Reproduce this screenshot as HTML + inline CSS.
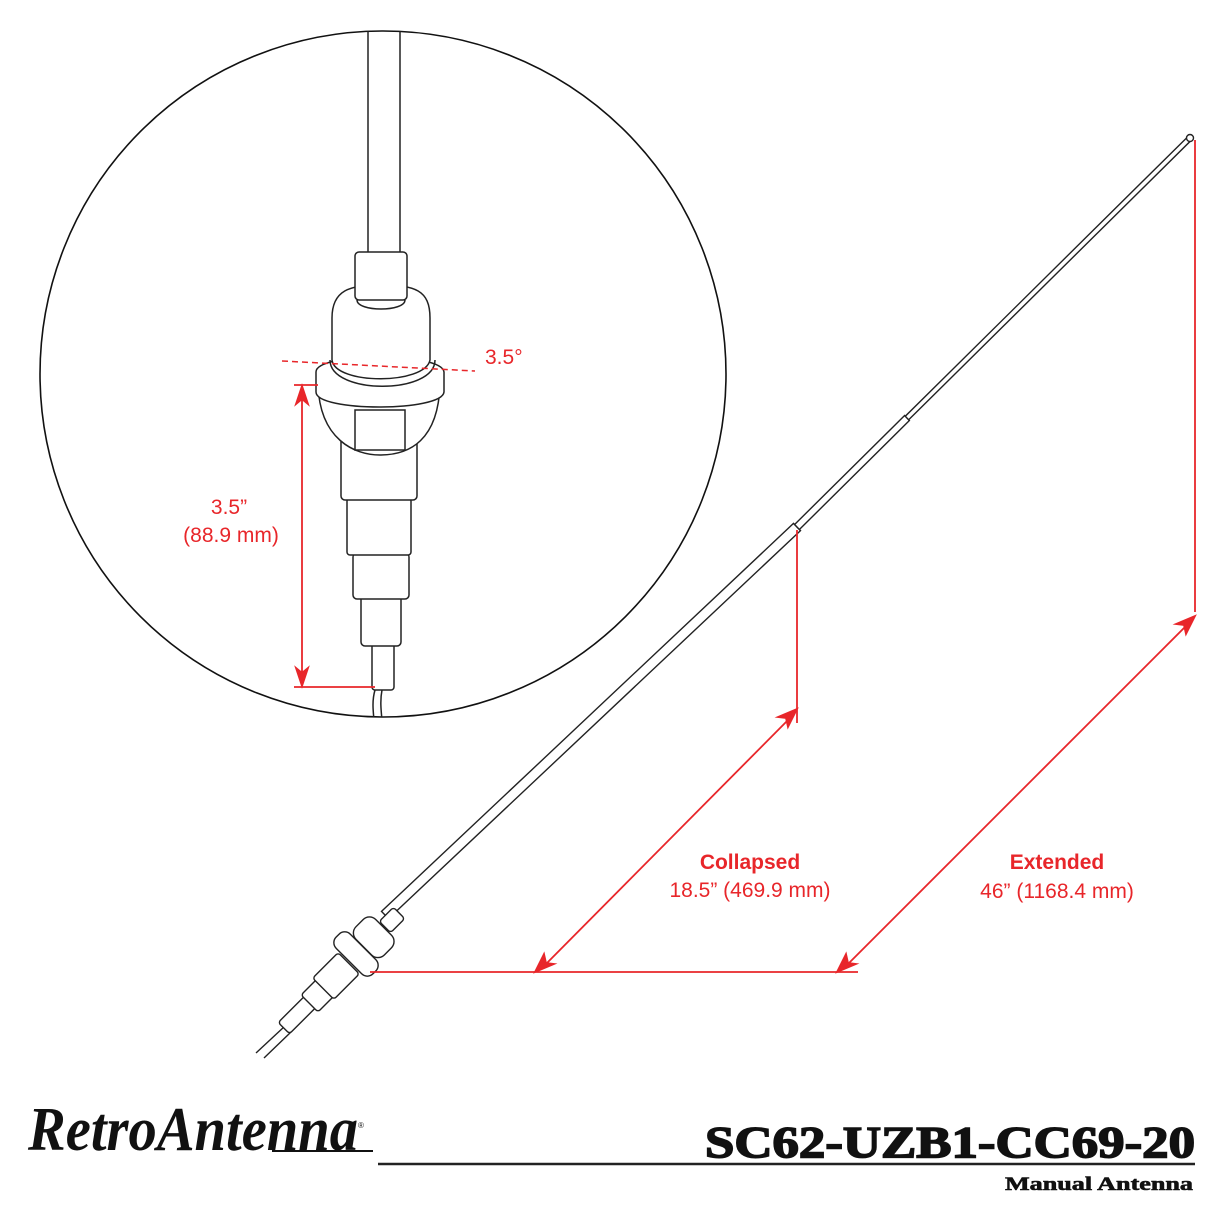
<!DOCTYPE html>
<html><head><style>
html,body{margin:0;padding:0;background:#fff;}
svg{display:block;}
</style></head><body>
<svg width="1225" height="1225" viewBox="0 0 1225 1225" xmlns="http://www.w3.org/2000/svg">
<defs>
<clipPath id="cc"><circle cx="383" cy="374" r="343"/></clipPath>
</defs>
<rect width="1225" height="1225" fill="#fff"/>
<circle cx="383" cy="374" r="343" fill="none" stroke="#111" stroke-width="1.6"/>
<g clip-path="url(#cc)" fill="#fff" stroke="#222" stroke-width="1.5">
  <line x1="368" y1="20" x2="368" y2="258"/>
  <line x1="400" y1="20" x2="400" y2="258"/>
  <path d="M375 690 C372 700 373 710 374 720 M382 690 C380 700 381 710 382 720" fill="none"/>
  <rect x="372" y="640" width="22" height="50" rx="3"/>
  <rect x="361" y="594" width="40" height="52" rx="4"/>
  <rect x="353" y="553" width="56" height="46" rx="4"/>
  <rect x="347" y="498" width="64" height="57" rx="3"/>
  <rect x="341" y="438" width="76" height="62" rx="4"/>
  <path d="M318 385 C320 440 355 455 380 455 C410 455 438 440 440 385 Z"/>
  <rect x="355" y="410" width="50" height="40"/>
  <path d="M316 372 C316 352 442 352 444 372 L444 392 C442 412 316 412 316 392 Z"/>
  <path d="M330 360 C330 395 435 395 435 360" fill="none"/>
  <path d="M332 318 C332 290 350 285 380 285 C415 285 430 290 430 318 L430 360 C425 385 335 385 332 360 Z"/>
  <rect x="355" y="252" width="52" height="48" rx="4"/>
  <path d="M357 300 C357 312 405 312 405 300" fill="none"/>
</g>
<line x1="282" y1="361" x2="475" y2="371" stroke="#e8262a" stroke-width="1.5" stroke-dasharray="6,4"/>
<text x="485" y="364" font-family="Liberation Sans, sans-serif" font-size="21" fill="#e8262a">3.5°</text>
<g stroke="#e8262a" stroke-width="1.8" fill="#e8262a">
  <line x1="294" y1="385" x2="318" y2="385"/>
  <line x1="294" y1="687" x2="375" y2="687"/>
  <line x1="302" y1="395" x2="302" y2="678"/>
  <path d="M302 386 L296 404 L302 399 L308 404 Z"/>
  <path d="M302 686 L296 668 L302 673 L308 668 Z"/>
</g>
<text x="229" y="514" text-anchor="middle" font-family="Liberation Sans, sans-serif" font-size="21" fill="#e8262a">3.5”</text>
<text x="231" y="542" text-anchor="middle" font-family="Liberation Sans, sans-serif" font-size="21" fill="#e8262a">(88.9 mm)</text>

<g fill="#fff" stroke="#222" stroke-width="1.4">
  <polygon points="388.5,918.6 800.5,530.6 793.5,523.4 381.5,911.4"/>
  <polygon points="799.4,529.5 909.4,420.5 904.6,415.5 794.6,524.5"/>
  <polygon points="908.7,419.8 1191.7,139.8 1188.3,136.2 905.3,416.2"/>
  <circle cx="1190" cy="138" r="3.5"/>
</g>
<g fill="#fff" stroke="#222" stroke-width="1.4">
  <line x1="256" y1="1053" x2="285" y2="1026"/>
  <line x1="264" y1="1058" x2="291" y2="1032"/>
  <g transform="translate(298,1014) rotate(-45)"><rect x="-20" y="-8" width="40" height="16" rx="3"/></g>
  <g transform="translate(318,995) rotate(-45)"><rect x="-12" y="-12" width="24" height="24" rx="3"/></g>
  <g transform="translate(336,976) rotate(-45)"><rect x="-18" y="-15" width="36" height="30" rx="3"/></g>
  <g transform="translate(356,954) rotate(-45)"><rect x="-10" y="-26" width="20" height="52" rx="8"/></g>
  <g transform="translate(373,938) rotate(-45)"><rect x="-13" y="-20" width="28" height="40" rx="9"/></g>
  <g transform="translate(392,920) rotate(-45)"><rect x="-10" y="-8" width="20" height="16" rx="3"/></g>
</g>
<g stroke="#e8262a" stroke-width="1.8" fill="#e8262a">
  <line x1="370" y1="972" x2="858" y2="972"/>
  <line x1="797" y1="530" x2="797" y2="723"/>
  <line x1="1195" y1="140" x2="1195" y2="612"/>
  <line x1="545" y1="965" x2="792" y2="716"/>
  <path d="M535 972 L544 954 L546 963 L554 964 Z"/>
  <path d="M797 709 L788 727 L786 718 L778 717 Z"/>
  <line x1="847" y1="965" x2="1188" y2="624"/>
  <path d="M837 972 L846 954 L848 963 L856 964 Z"/>
  <path d="M1195 616 L1186 634 L1184 625 L1176 624 Z"/>
</g>
<g font-family="Liberation Sans, sans-serif" font-size="21" fill="#e8262a" text-anchor="middle">
  <text x="750" y="869" font-weight="bold">Collapsed</text>
  <text x="750" y="897">18.5” (469.9 mm)</text>
  <text x="1057" y="869" font-weight="bold">Extended</text>
  <text x="1057" y="898">46” (1168.4 mm)</text>
</g>
<text x="28" y="1150" font-family="Liberation Serif, serif" font-style="italic" font-weight="bold" font-size="62" fill="#111" textLength="330" lengthAdjust="spacingAndGlyphs">RetroAntenna</text>
<text x="358" y="1128" font-family="Liberation Sans, sans-serif" font-size="8" fill="#111">®</text>
<line x1="272" y1="1151" x2="373" y2="1151" stroke="#111" stroke-width="2"/>
<text x="705" y="1157" font-family="Liberation Serif, serif" font-weight="bold" font-size="44" fill="#111" stroke="#111" stroke-width="1.6" textLength="490" lengthAdjust="spacingAndGlyphs">SC62-UZB1-CC69-20</text>
<line x1="378" y1="1164" x2="1195" y2="1164" stroke="#222" stroke-width="2.5"/>
<text x="1005" y="1190" font-family="Liberation Serif, serif" font-weight="bold" font-size="19" fill="#111" stroke="#111" stroke-width="0.6" textLength="188" lengthAdjust="spacingAndGlyphs">Manual Antenna</text>
</svg>
</body></html>
